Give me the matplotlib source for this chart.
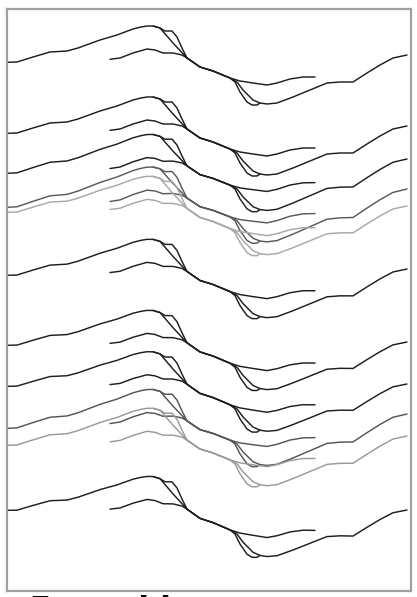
import numpy as np
from matplotlib import pyplot as plt

# template shape (pixel units), traced from the top group
long_x = [8, 17, 33, 50, 67, 78, 100, 117, 133, 141, 147, 153, 160, 173, 187, 200, 213,
          230, 237, 243, 253, 260, 267, 277, 293, 310, 327, 340, 353, 367, 380, 393, 407]
long_y = [62.3, 62, 57, 52, 51, 48, 40, 35, 29, 27, 26, 26, 28, 43, 58, 67, 71,
          78, 82, 90, 100, 103, 104, 103, 97, 90, 83, 82, 82, 73, 65, 58, 55]

bump_x = [153, 160, 165, 172, 177, 182, 187, 200, 213, 230, 235, 240, 247, 252, 257, 260]
bump_y = [26, 28, 31, 31, 37, 48, 58, 67, 71, 78, 82, 92, 102, 105, 105, 103]

short_x = [110, 120, 133, 147, 155, 163, 173, 182, 187, 200, 213, 230, 240, 253,
           267, 277, 290, 303, 315]
short_y = [59.3, 58, 53, 49, 50, 53, 53, 55, 58, 67, 71, 78, 81, 83,
           85, 83, 79, 77, 77]

# vertical shift of each group at the left and right edge
shift_left = [0, 71, 111, 145, 150, 213, 283, 324, 366, 383, 448]
shift_right = [0, 71, 104, 134, 151, 214, 287, 329, 359, 381, 455]
colors = ["#1e1e1e", "#1e1e1e", "#1e1e1e", "#5a5a5a", "#a8a8a8", "#1e1e1e",
          "#1e1e1e", "#1e1e1e", "#555555", "#9a9a9a", "#1e1e1e"]

caption = "Four old"

fig = plt.figure(figsize=(4.17, 5.97), dpi=100)
ax = fig.add_axes([7 / 417, 6 / 597, 404 / 417, 582 / 597])
ax.set_xlim(7, 411)
ax.set_ylim(591, 9)
ax.set_xticks([])
ax.set_yticks([])
for s in ax.spines.values():
    s.set_color("#a0a0a0")
    s.set_linewidth(1.6)


def shifted(xs, ys, dl, dr):
    xs = np.array(xs, dtype=float)
    return xs, np.array(ys) + dl + (dr - dl) * (xs - 8) / 399


for dl, dr, c in zip(shift_left, shift_right, colors):
    for xs, ys in [(long_x, long_y), (bump_x, bump_y), (short_x, short_y)]:
        px, py = shifted(xs, ys, dl, dr)
        ax.plot(px, py, color=c, lw=1.05, solid_joinstyle="round", solid_capstyle="round")

# caption below the frame, only its top edge is inside the page
fig.text(30 / 417, -21 / 597, caption, fontsize=22, fontweight="bold",
         color="black", va="baseline")

fig.savefig("out.png", dpi=100)
